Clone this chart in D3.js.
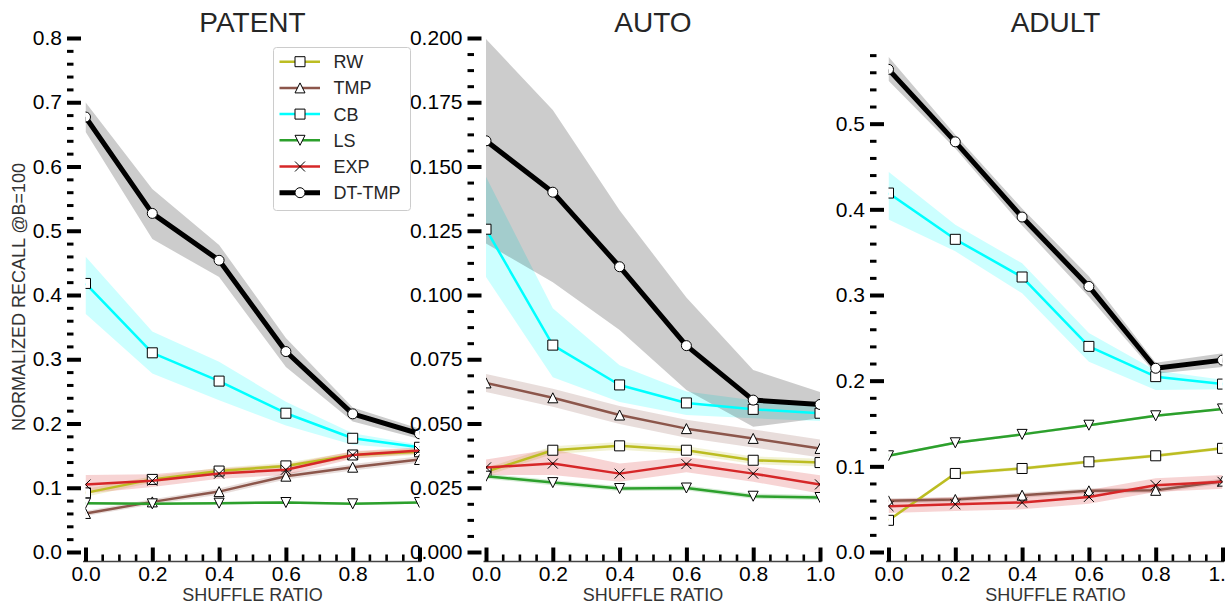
<!DOCTYPE html>
<html>
<head>
<meta charset="utf-8">
<script src="https://cdn.jsdelivr.net/npm/d3@7"></script>
<style>
  body { margin: 0; background: #fff; }
  svg { display: block; font-family: "Liberation Sans", Arial, sans-serif; }
</style>
</head>
<body>
<svg id="chart" width="1225" height="606"></svg>
<script>
// shared x values and series
const shuffleRatio = [0, 0.2, 0.4, 0.6, 0.8, 1.0]
const methods = ['RW', 'TMP', 'CB', 'LS', 'EXP', 'DT-TMP']
const datasets = ['PATENT', 'AUTO', 'ADULT']

// PATENT (rows follow methods order)
const patentMean = [
  [0.092, 0.113, 0.126, 0.134, 0.151, 0.156],
  [0.060, 0.078, 0.094, 0.118, 0.132, 0.144],
  [0.418, 0.310, 0.266, 0.216, 0.177, 0.163],
  [0.076, 0.075, 0.076, 0.077, 0.075, 0.077],
  [0.105, 0.111, 0.122, 0.128, 0.151, 0.158],
  [0.677, 0.527, 0.454, 0.312, 0.215, 0.184]
]
const patentLo = [
  [0.086, 0.108, 0.121, 0.129, 0.146, 0.151],
  [0.056, 0.074, 0.089, 0.113, 0.127, 0.139],
  [0.371, 0.278, 0.236, 0.197, 0.167, 0.159],
  [0.074, 0.073, 0.074, 0.075, 0.073, 0.075],
  [0.091, 0.101, 0.114, 0.120, 0.145, 0.153],
  [0.654, 0.487, 0.428, 0.288, 0.203, 0.176]
]
const patentHi = [
  [0.098, 0.118, 0.131, 0.139, 0.156, 0.161],
  [0.064, 0.082, 0.099, 0.123, 0.137, 0.149],
  [0.460, 0.343, 0.296, 0.234, 0.185, 0.167],
  [0.078, 0.077, 0.078, 0.079, 0.077, 0.079],
  [0.120, 0.121, 0.130, 0.136, 0.157, 0.163],
  [0.700, 0.565, 0.478, 0.333, 0.225, 0.192]
]

// AUTO
const autoMean = [
  [0.0312, 0.0396, 0.0413, 0.0396, 0.0357, 0.0348],
  [0.0658, 0.0600, 0.0533, 0.0480, 0.0442, 0.0403],
  [0.1256, 0.0805, 0.0650, 0.0580, 0.0555, 0.0540],
  [0.0295, 0.0270, 0.0247, 0.0249, 0.0217, 0.0212],
  [0.0329, 0.0344, 0.0305, 0.0342, 0.0305, 0.0263],
  [0.1600, 0.1400, 0.1110, 0.0803, 0.0591, 0.0574]
]
const autoLo = [
  [0.0297, 0.0381, 0.0398, 0.0381, 0.0342, 0.0333],
  [0.0623, 0.0565, 0.0498, 0.0445, 0.0407, 0.0368],
  [0.1070, 0.0680, 0.0584, 0.0533, 0.0520, 0.0510],
  [0.0285, 0.0260, 0.0237, 0.0239, 0.0207, 0.0202],
  [0.0300, 0.0300, 0.0273, 0.0310, 0.0273, 0.0228],
  [0.1200, 0.1050, 0.0864, 0.0630, 0.0487, 0.0520]
]
const autoHi = [
  [0.0327, 0.0411, 0.0428, 0.0411, 0.0372, 0.0363],
  [0.0693, 0.0635, 0.0568, 0.0515, 0.0477, 0.0438],
  [0.1460, 0.0948, 0.0727, 0.0625, 0.0590, 0.0570],
  [0.0305, 0.0280, 0.0257, 0.0259, 0.0227, 0.0222],
  [0.0360, 0.0400, 0.0344, 0.0370, 0.0335, 0.0299],
  [0.1996, 0.1720, 0.1330, 0.0990, 0.0708, 0.0623]
]

// ADULT
const adultMean = [
  [0.0370, 0.0917, 0.0975, 0.1053, 0.1123, 0.1210],
  [0.0597, 0.0613, 0.0663, 0.0714, 0.0720, 0.0827],
  [0.4190, 0.3650, 0.3210, 0.2400, 0.2047, 0.1960],
  [0.1123, 0.1275, 0.1373, 0.1480, 0.1590, 0.1670],
  [0.0535, 0.0558, 0.0578, 0.0643, 0.0780, 0.0819],
  [0.5634, 0.4788, 0.3910, 0.3100, 0.2145, 0.2240]
]
const adultLo = [
  [0.0350, 0.0897, 0.0955, 0.1033, 0.1103, 0.1190],
  [0.0567, 0.0583, 0.0633, 0.0684, 0.0690, 0.0797],
  [0.3880, 0.3510, 0.3020, 0.2220, 0.1890, 0.1900],
  [0.1108, 0.1260, 0.1358, 0.1465, 0.1575, 0.1655],
  [0.0455, 0.0478, 0.0498, 0.0563, 0.0700, 0.0739],
  [0.5500, 0.4710, 0.3810, 0.2980, 0.2080, 0.2160]
]
const adultHi = [
  [0.0390, 0.0937, 0.0995, 0.1073, 0.1143, 0.1230],
  [0.0627, 0.0643, 0.0693, 0.0744, 0.0750, 0.0857],
  [0.4440, 0.3820, 0.3370, 0.2555, 0.2120, 0.2010],
  [0.1138, 0.1290, 0.1388, 0.1495, 0.1605, 0.1685],
  [0.0615, 0.0638, 0.0658, 0.0723, 0.0860, 0.0899],
  [0.5780, 0.4870, 0.4010, 0.3220, 0.2210, 0.2320]
]

// y tick labels per panel
const patentTicks = [0, 0.1, 0.2, 0.3, 0.4, 0.5, 0.6, 0.7, 0.8]
const autoTicks = [0, 0.025, 0.05, 0.075, 0.1, 0.125, 0.15, 0.175, 0.2]
const adultTicks = [0, 0.1, 0.2, 0.3, 0.4, 0.5]
const xTicks = [0, 0.2, 0.4, 0.6, 0.8, 1.0]

const colors = ['#bcbd22', '#8c564b', '#00ffff', '#2ca02c', '#d62728', '#000000']
const markers = ['square', 'up', 'square', 'down', 'x', 'circle']

const svg = d3.select('#chart')
const defs = svg.append('defs')

const y0 = 552, yTop = 38, plotW = 334
const panelLeft = [85.5, 486, 888.5]

const panels = [
  { mean: patentMean, lo: patentLo, hi: patentHi, ticks: patentTicks, top: 0.8, minorStep: 0.02, fmt: '.1f' },
  { mean: autoMean, lo: autoLo, hi: autoHi, ticks: autoTicks, top: 0.2, minorStep: 0.00625, fmt: '.3f' },
  { mean: adultMean, lo: adultLo, hi: adultHi, ticks: adultTicks, top: 0.6, minorStep: 0.02, fmt: '.1f', minorMax: 0.58 }
]

let markerPath = (type) => {
  let m = 5
  if (type === 'square') return `M${-m},${-m}H${m}V${m}H${-m}Z`
  if (type === 'up') return `M0,${-m}L${m},${m}L${-m},${m}Z`
  if (type === 'down') return `M0,${m}L${m},${-m}L${-m},${-m}Z`
  if (type === 'x') return `M${-m},${-m}L${m},${m}M${-m},${m}L${m},${-m}`
  return d3.symbol(d3.symbolCircle, Math.PI * m * m)()
}

panels.forEach((p, pi) => {
  let left = panelLeft[pi]
  let x = d3.scaleLinear().domain([0, 1]).range([left, left + plotW])
  let y = d3.scaleLinear().domain([0, p.top]).range([y0, y0 - (y0 - yTop)])

  let clipId = 'clip' + pi
  defs.append('clipPath').attr('id', clipId)
    .append('rect')
      .attr('x', left).attr('y', yTop - 2)
      .attr('width', plotW).attr('height', y0 - yTop + 2)

  let g = svg.append('g').attr('clip-path', `url(#${clipId})`)

  let area = d3.area()
    .x((d, i) => x(shuffleRatio[i]))
    .y0(d => y(d[0]))
    .y1(d => y(d[1]))
  let line = d3.line()
    .x((d, i) => x(shuffleRatio[i]))
    .y(d => y(d))

  methods.forEach((m, mi) => {
    let band = p.lo[mi].map((v, i) => [v, p.hi[mi][i]])
    g.append('path')
      .attr('d', area(band))
      .style('fill', colors[mi])
      .style('fill-opacity', 0.2)
  })

  methods.forEach((m, mi) => {
    g.append('path')
      .attr('d', line(p.mean[mi]))
      .style('fill', 'none')
      .style('stroke', colors[mi])
      .style('stroke-width', mi === 5 ? 5 : 2.5)
      .style('stroke-linejoin', 'round')

    g.selectAll(null).data(p.mean[mi]).enter().append('path')
      .attr('transform', (d, i) => `translate(${ x(shuffleRatio[i]) },${ y(d) })`)
      .attr('d', markerPath(markers[mi]))
      .style('fill', markers[mi] === 'x' ? 'none' : '#fff')
      .style('stroke', '#000')
      .style('stroke-width', 1)
  })

  // y axis: invisible spine offset to the left, ticks pointing inward
  let spineX = left - 18.5
  let minorVals = d3.range(0, (p.minorMax || p.top) + 1e-9, p.minorStep)
    .filter(v => !p.ticks.some(t => Math.abs(t - v) < 1e-9))

  let yMinor = svg.append('g')
    .attr('transform', `translate(${ spineX },0)`)
    .call(d3.axisLeft(y).tickValues(minorVals).tickSizeInner(-6.5).tickSizeOuter(0).tickFormat(''))
  yMinor.select('.domain').remove()
  yMinor.selectAll('line').style('stroke', '#000').style('stroke-width', 3)

  let yMajor = svg.append('g')
    .attr('transform', `translate(${ spineX },0)`)
    .call(d3.axisLeft(y).tickValues(p.ticks).tickSizeInner(-14).tickSizeOuter(0).tickPadding(5).tickFormat(d3.format(p.fmt)))
  yMajor.select('.domain').remove()
  yMajor.selectAll('line').style('stroke', '#000').style('stroke-width', 4)
  yMajor.selectAll('text').style('font-size', '21px').style('fill', '#000')
    .style('font-family', '"Liberation Sans", Arial, sans-serif')

  // x axis: spine offset below, ticks pointing up
  let xMinorVals = d3.range(0, 1.0001, 0.05).filter(v => !xTicks.some(t => Math.abs(t - v) < 1e-9))
  let axisY = y0 + 9.5
  let xMinor = svg.append('g')
    .attr('transform', `translate(0,${ axisY })`)
    .call(d3.axisBottom(x).tickValues(xMinorVals).tickSizeInner(-7).tickSizeOuter(0).tickFormat(''))
  xMinor.select('.domain').remove()
  xMinor.selectAll('line').style('stroke', '#000').style('stroke-width', 2.6)

  let xMajor = svg.append('g')
    .attr('transform', `translate(0,${ axisY })`)
    .call(d3.axisBottom(x).tickValues(xTicks).tickSizeInner(-14).tickSizeOuter(0).tickPadding(5).tickFormat(d3.format('.1f')))
  xMajor.select('.domain')
    .attr('d', `M${ left - 2.5 },0H${ left + plotW + 1.5 }`)
    .style('stroke', '#444').style('stroke-width', 1.5)
  xMajor.selectAll('line').style('stroke', '#000').style('stroke-width', 4)
  xMajor.selectAll('text').style('font-size', '21px').style('fill', '#000')
    .style('font-family', '"Liberation Sans", Arial, sans-serif')

  svg.append('text')
    .attr('x', left + plotW / 2).attr('y', 32)
    .attr('text-anchor', 'middle')
    .style('font-size', '28px').style('fill', '#262626')
    .text(datasets[pi])

  svg.append('text')
    .attr('x', left + plotW / 2).attr('y', 601)
    .attr('text-anchor', 'middle')
    .style('font-size', '18px').style('fill', '#333')
    .text('SHUFFLE RATIO')
})

svg.append('text')
  .attr('transform', 'translate(25,297) rotate(-90)')
  .attr('text-anchor', 'middle')
  .style('font-size', '18px').style('fill', '#333')
  .text('NORMALIZED RECALL @B=100')

// legend
let legend = svg.append('g').attr('transform', 'translate(273.5,47.5)')
legend.append('rect')
  .attr('width', 137).attr('height', 163)
  .attr('rx', 3)
  .style('fill', '#fff').style('fill-opacity', 0.8)
  .style('stroke', '#ccc').style('stroke-width', 1)

methods.forEach((m, mi) => {
  let ly = 14.2 + mi * 26.2
  legend.append('line')
    .attr('x1', 6).attr('x2', 46.5).attr('y1', ly).attr('y2', ly)
    .style('stroke', colors[mi])
    .style('stroke-width', mi === 5 ? 5 : 2.5)
  legend.append('path')
    .attr('transform', `translate(26.5,${ ly })`)
    .attr('d', markerPath(markers[mi]))
    .style('fill', markers[mi] === 'x' ? 'none' : '#fff')
    .style('stroke', '#000').style('stroke-width', 1)
  legend.append('text')
    .attr('x', 60).attr('y', ly).attr('dy', '0.36em')
    .style('font-size', '18px').style('fill', '#262626')
    .text(m)
})
</script>
</body>
</html>
